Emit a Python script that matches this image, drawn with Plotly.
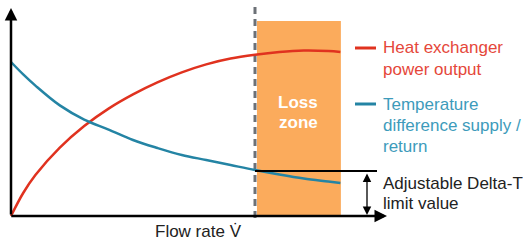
import plotly.graph_objects as go

# Flow rate (relative, 1.0 = flow at adjustable Delta-T limit)
flow = [0, 0.05, 0.1, 0.2, 0.3, 0.4, 0.5, 0.6, 0.7, 0.8, 0.9, 1.0, 1.1, 1.2, 1.3, 1.35]
heat_output = [0, 0.115, 0.205, 0.342, 0.45, 0.537, 0.608, 0.668, 0.718, 0.758, 0.787, 0.806, 0.82, 0.8275, 0.825, 0.82]
delta_t = [0.77, 0.708, 0.652, 0.553, 0.482, 0.432, 0.38, 0.34, 0.305, 0.28, 0.255, 0.23, 0.2075, 0.1875, 0.1725, 0.165]

limit_flow = 1.0
limit_value = 0.225
loss_zone = [1.008, 1.352]
loss_zone_top = 0.975

series_names = ["Heat exchanger<br>power output", "Temperature<br>difference supply /<br>return"]
x_label = "Flow rate V\u0307"

RED = "#e0321f"
RED_TXT = "#e5473a"
BLUE = "#2484a4"
BLUE_TXT = "#3d9bbb"
ORANGE = "#fbab5c"
GRAY = "#6c7177"
FONT = "Liberation Sans, Arial, sans-serif"

W, H = 523, 241
# data->pixel: px = 11 + 244*x ; py = 216 - 200*y
x_range = [(0 - 11) / 244, (W - 11) / 244]
y_range = [(216 - H) / 200, (216 - 0) / 200]

def px(p):
    return p / W

def py(p):
    return 1 - p / H

fig = go.Figure()
fig.add_trace(go.Scatter(x=flow, y=heat_output, mode="lines", line=dict(color=RED, width=2.5, shape="spline", smoothing=1.0), hoverinfo="skip"))
fig.add_trace(go.Scatter(x=flow, y=delta_t, mode="lines", line=dict(color=BLUE, width=2.5, shape="spline", smoothing=1.0), hoverinfo="skip"))

shapes = [
    dict(type="rect", xref="x", yref="y", x0=loss_zone[0], x1=loss_zone[1], y0=0, y1=loss_zone_top,
         fillcolor=ORANGE, line=dict(width=0), layer="below"),
    dict(type="line", xref="x", yref="y", x0=limit_flow, x1=limit_flow, y0=-0.01, y1=1.065,
         line=dict(color=GRAY, width=3, dash="7px,5px"), layer="below"),
    dict(type="line", xref="x", yref="y", x0=limit_flow, x1=1.5, y0=limit_value, y1=limit_value,
         line=dict(color="black", width=2), layer="above"),
    # legend swatches
    dict(type="line", xref="paper", yref="paper", x0=px(355), x1=px(376), y0=py(48), y1=py(48),
         line=dict(color=RED, width=3)),
    dict(type="line", xref="paper", yref="paper", x0=px(355), x1=px(376), y0=py(104), y1=py(104),
         line=dict(color=BLUE, width=3)),
]

annotations = [
    # y axis arrow
    dict(x=0, y=1.04, ax=0, ay=0, xref="x", yref="y", axref="x", ayref="y", text="", showarrow=True,
         arrowhead=2, arrowsize=1, arrowwidth=2.5, arrowcolor="black", standoff=0),
    # x axis arrow
    dict(x=1.541, y=0, ax=-0.005, ay=0, xref="x", yref="y", axref="x", ayref="y", text="", showarrow=True,
         arrowhead=2, arrowsize=1, arrowwidth=2.5, arrowcolor="black", standoff=0),
    # double arrow for limit value
    dict(x=1.459, y=0.005, ax=1.459, ay=limit_value - 0.005, xref="x", yref="y", axref="x", ayref="y", text="",
         showarrow=True, arrowhead=2, startarrowhead=2, arrowside="end+start", arrowsize=1.3, startarrowsize=1.3,
         arrowwidth=1.3, arrowcolor="black", standoff=0, startstandoff=0),
]

def label(text, x, y, color, size=17, bold=False, xanchor="left"):
    t = f"<b>{text}</b>" if bold else text
    annotations.append(dict(text=t, x=px(x), y=py(y), xref="paper", yref="paper", showarrow=False,
                            xanchor=xanchor, yanchor="middle", font=dict(family=FONT, size=size, color=color)))

for i, line in enumerate(series_names[0].split("<br>")):
    label(line, 381, 48 + 21 * i, RED_TXT)
for i, line in enumerate(series_names[1].split("<br>")):
    label(line, 381, 104 + 21 * i, BLUE_TXT)
label("Adjustable Delta-T", 381, 183, "#222222")
label("limit value", 381, 203, "#222222")
label("Loss", 298, 102, "white", bold=True, xanchor="center")
label("zone", 298, 123, "white", bold=True, xanchor="center")
label(x_label, 198, 231, "#222222", xanchor="center")

fig.update_layout(
    width=W, height=H, margin=dict(l=0, r=0, t=0, b=0),
    paper_bgcolor="white", plot_bgcolor="white", showlegend=False,
    xaxis=dict(range=x_range, visible=False, fixedrange=True),
    yaxis=dict(range=y_range, visible=False, fixedrange=True),
    shapes=shapes, annotations=annotations,
)
fig.write_html("out.html", config=dict(displayModeBar=False),
               post_script="document.body.style.margin='0';document.body.style.overflow='hidden';")
